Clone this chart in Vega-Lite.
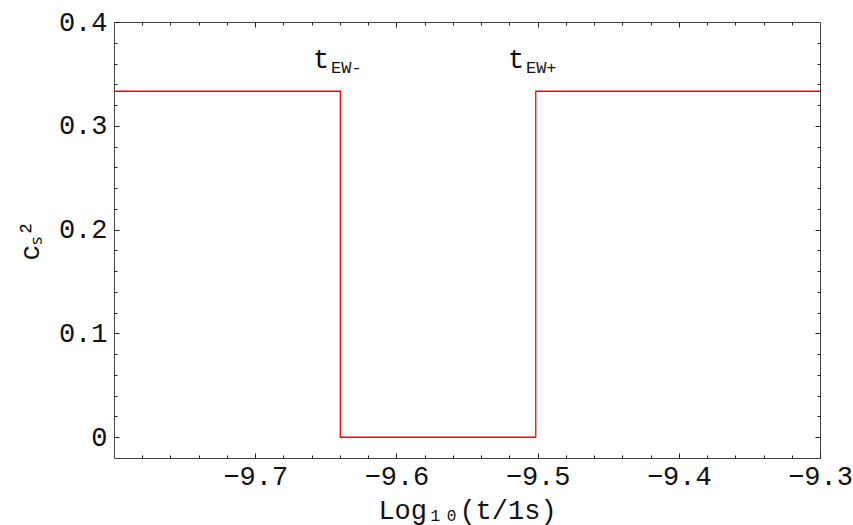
{
  "$schema": "https://vega.github.io/schema/vega-lite/v6.json",
  "width": 706,
  "height": 436,
  "autosize": "none",
  "padding": {"left": 114, "top": 22, "right": 33, "bottom": 67},
  "background": "white",
  "config": {
    "view": {"stroke": "#444444", "strokeWidth": 1},
    "font": "Liberation Mono",
    "axis": {
      "domain": false,
      "grid": false,
      "tickColor": "#222222",
      "tickWidth": 1,
      "labelFont": "Liberation Mono",
      "labelFontSize": 27,
      "labelColor": "#111111",
      "titleFont": "Liberation Mono",
      "titleFontSize": 27,
      "titleFontWeight": "normal",
      "titleColor": "#111111"
    }
  },
  "datasets": {
    "curve": [
      {"x": -9.8, "y": 0.3333},
      {"x": -9.6397, "y": 0.0},
      {"x": -9.5013, "y": 0.3333},
      {"x": -9.3, "y": 0.3333}
    ],
    "labels": [
      {"x": -9.659, "y": 0.356, "t": "t", "sub": "EW-"},
      {"x": -9.521, "y": 0.356, "t": "t", "sub": "EW+"}
    ]
  },
  "resolve": {"axis": {"x": "independent", "y": "independent"}},
  "layer": [
    {
      "data": {"name": "curve"},
      "mark": {"type": "line", "interpolate": "step-after", "color": "#ff0000", "strokeWidth": 1.3},
      "encoding": {
        "x": {
          "field": "x", "type": "quantitative",
          "scale": {"domain": [-9.8, -9.3], "nice": false, "zero": false},
          "axis": {
            "orient": "bottom",
            "values": [-9.7, -9.6, -9.5, -9.4, -9.3],
            "tickSize": -5,
            "labelPadding": 10,
            "labelExpr": "format(datum.value, '.1f')",
            "labelFlush": false,
            "labelOverlap": false,
            "title": "Log₁₀(t/1s)",
            "titlePadding": 8
          }
        },
        "y": {
          "field": "y", "type": "quantitative",
          "scale": {"domain": [-0.02, 0.4], "nice": false, "zero": false},
          "axis": {
            "orient": "left",
            "values": [0, 0.1, 0.2, 0.3, 0.4],
            "tickSize": -5,
            "labelPadding": 12,
            "labelExpr": "datum.value === 0 ? '0' : format(datum.value, '.1f')",
            "labelFlush": false,
            "labelOverlap": false,
            "title": "cₛ²",
            "titlePadding": 14
          }
        }
      }
    },
    {
      "data": {"name": "curve"},
      "mark": {"type": "line", "interpolate": "step-after", "color": "#ff0000", "strokeWidth": 1.3, "opacity": 0},
      "encoding": {
        "x": {
          "field": "x", "type": "quantitative",
          "scale": {"domain": [-9.8, -9.3], "nice": false, "zero": false},
          "axis": {
            "orient": "bottom",
            "values": [-9.78, -9.76, -9.74, -9.72, -9.68, -9.66, -9.64, -9.62, -9.58, -9.56, -9.54, -9.52, -9.48, -9.46, -9.44, -9.42, -9.38, -9.36, -9.34, -9.32],
            "tickSize": -3,
            "labels": false,
            "title": null
          }
        },
        "y": {
          "field": "y", "type": "quantitative",
          "scale": {"domain": [-0.02, 0.4], "nice": false, "zero": false},
          "axis": {
            "orient": "left",
            "values": [0.02, 0.04, 0.06, 0.08, 0.12, 0.14, 0.16, 0.18, 0.22, 0.24, 0.26, 0.28, 0.32, 0.34, 0.36, 0.38],
            "tickSize": -3,
            "labels": false,
            "title": null
          }
        }
      }
    },
    {
      "data": {"name": "labels"},
      "mark": {"type": "text", "align": "left", "baseline": "alphabetic", "fontSize": 27, "font": "Liberation Mono", "color": "#111111"},
      "encoding": {
        "text": {"field": "t"},
        "x": {
          "field": "x", "type": "quantitative",
          "scale": {"domain": [-9.8, -9.3], "nice": false, "zero": false},
          "axis": {
            "orient": "top",
            "values": [-9.7, -9.6, -9.5, -9.4],
            "tickSize": -5,
            "labels": false,
            "title": null
          }
        },
        "y": {
          "field": "y", "type": "quantitative",
          "scale": {"domain": [-0.02, 0.4], "nice": false, "zero": false},
          "axis": {
            "orient": "right",
            "values": [0, 0.1, 0.2, 0.3],
            "tickSize": -5,
            "labels": false,
            "title": null
          }
        }
      }
    },
    {
      "data": {"name": "labels"},
      "mark": {"type": "text", "align": "left", "baseline": "alphabetic", "fontSize": 17, "font": "Liberation Mono", "color": "#111111", "dx": 18, "dy": 5},
      "encoding": {
        "text": {"field": "sub"},
        "x": {
          "field": "x", "type": "quantitative",
          "scale": {"domain": [-9.8, -9.3], "nice": false, "zero": false},
          "axis": {
            "orient": "top",
            "values": [-9.78, -9.76, -9.74, -9.72, -9.68, -9.66, -9.64, -9.62, -9.58, -9.56, -9.54, -9.52, -9.48, -9.46, -9.44, -9.42, -9.38, -9.36, -9.34, -9.32],
            "tickSize": -3,
            "labels": false,
            "title": null
          }
        },
        "y": {
          "field": "y", "type": "quantitative",
          "scale": {"domain": [-0.02, 0.4], "nice": false, "zero": false},
          "axis": {
            "orient": "right",
            "values": [0.02, 0.04, 0.06, 0.08, 0.12, 0.14, 0.16, 0.18, 0.22, 0.24, 0.26, 0.28, 0.32, 0.34, 0.36, 0.38],
            "tickSize": -3,
            "labels": false,
            "title": null
          }
        }
      }
    }
  ]
}
